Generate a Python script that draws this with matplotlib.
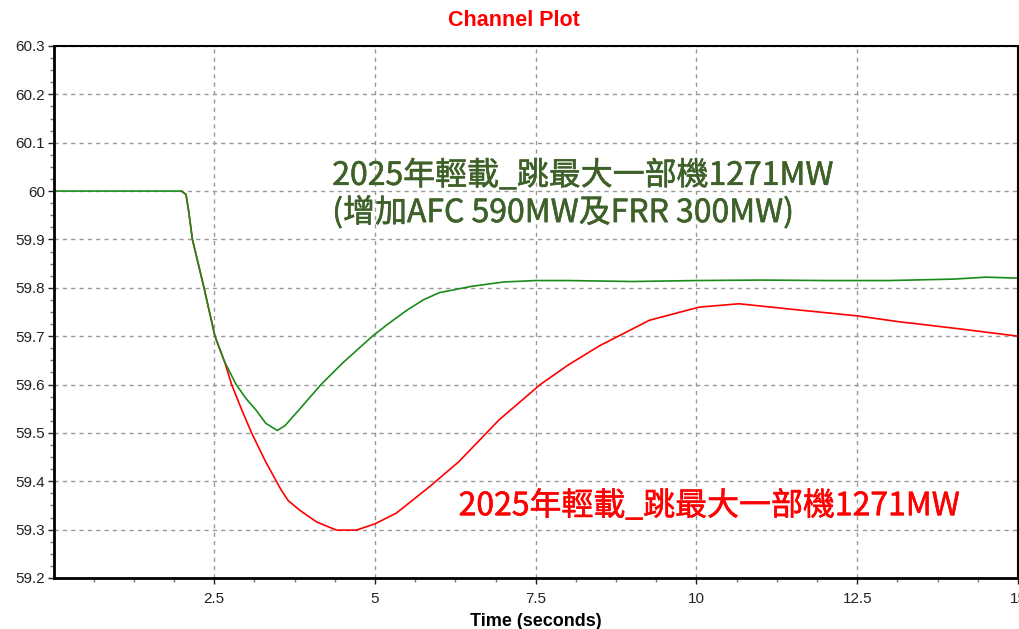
import matplotlib.pyplot as plt
import matplotlib.patheffects as pe

# time (s) and frequency (Hz)
green_t = [0, 1.99, 2.06, 2.1, 2.16, 2.34, 2.51, 2.66, 2.84, 3.0, 3.15, 3.3, 3.48,
           3.6, 3.8, 4.16, 4.5, 4.96, 5.2, 5.5, 5.75, 6.0, 6.5, 7.0, 7.5, 8.0, 9.0,
           10.0, 11.0, 12.0, 13.0, 14.0, 14.5, 15.0]
green_f = [60, 60, 59.993, 59.96, 59.9, 59.8, 59.7, 59.647, 59.6, 59.57, 59.547,
           59.52, 59.505, 59.515, 59.545, 59.6, 59.645, 59.7, 59.725, 59.754, 59.775,
           59.79, 59.803, 59.812, 59.815, 59.815, 59.813, 59.815, 59.816, 59.815,
           59.815, 59.818, 59.822, 59.82]

red_t = [1.99, 2.06, 2.1, 2.16, 2.34, 2.51, 2.66, 2.77, 2.92, 3.08, 3.3, 3.54, 3.65,
         3.83, 4.09, 4.4, 4.71, 5.0, 5.33, 5.85, 6.3, 6.93, 7.57, 8.0, 8.49, 9.27,
         10.04, 10.66, 11.6, 12.5, 13.14, 14.1, 15.0]
red_f = [60, 59.993, 59.96, 59.9, 59.8, 59.7, 59.647, 59.6, 59.55, 59.5, 59.44,
         59.382, 59.36, 59.34, 59.316, 59.299, 59.299, 59.312, 59.334, 59.389, 59.44,
         59.527, 59.60, 59.64, 59.68, 59.733, 59.76, 59.767, 59.754, 59.742, 59.73,
         59.715, 59.70]

x_ticks = [2.5, 5, 7.5, 10, 12.5, 15]
y_ticks = [59.2, 59.3, 59.4, 59.5, 59.6, 59.7, 59.8, 59.9, 60, 60.1, 60.2, 60.3]
y_labels = ["59.2", "59.3", "59.4", "59.5", "59.6", "59.7", "59.8", "59.9", "60",
            "60.1", "60.2", "60.3"]

green_line1 = "2025年輕載_跳最大一部機1271MW"
green_line2 = "(增加AFC 590MW及FRR 300MW)"
red_label = "2025年輕載_跳最大一部機1271MW"

plt.rcParams['font.family'] = ['Liberation Sans', 'DejaVu Sans']
cjk = ['Noto Sans CJK TC', 'DejaVu Sans']

fig = plt.figure(figsize=(10.2, 6.29), dpi=100)
ax = fig.add_axes([0.0525, 0.0811, 0.9455, 0.8458])

# red first so green sits on top where they overlap
ax.plot(red_t, red_f, color='#ff0000', linewidth=1.2)
ax.plot(green_t, green_f, color='#1a8a1a', linewidth=1.2)

ax.set_xlim(0, 15)
ax.set_ylim(59.2, 60.3)
ax.set_xticks(x_ticks)
ax.set_xticklabels([str(v) for v in x_ticks])
ax.set_xticks([i * 0.625 for i in range(1, 24)], minor=True)
ax.set_yticks(y_ticks)
ax.set_yticklabels(y_labels)
ax.set_yticks([59.2 + i * 0.025 for i in range(44)], minor=True)
ax.tick_params(which='major', direction='out', length=4, width=1, labelsize=11,
               colors='#222222')
ax.tick_params(axis='y', which='major', pad=2)
ax.tick_params(axis='x', which='major', pad=6)
ax.tick_params(which='minor', direction='out', length=3, width=1, color='#777777')

ax.grid(True, which='major', color='#999999', linestyle=(0, (3, 3)), linewidth=1)
for side in ['left', 'bottom']:
    ax.spines[side].set_linewidth(2)
for side in ['top', 'right']:
    ax.spines[side].set_linewidth(1.5)

fig.text(514 / 1020, 1 - 21 / 629, 'Channel Plot', color='#ff0000',
         fontweight='bold', fontsize=15.5, ha='center', va='center')
ax.set_xlabel('Time (seconds)', fontweight='bold', fontsize=13, labelpad=5)

# thin stroke to get the heavier look of the original annotation font
green_fx = [pe.withStroke(linewidth=0.4, foreground='#3d6128')]
red_fx = [pe.withStroke(linewidth=0.4, foreground='#ff0000')]
ax.text(0.289, 0.739, green_line1, transform=ax.transAxes, family=cjk,
        fontsize=23, color='#3d6128', va='baseline', ha='left', path_effects=green_fx)
ax.text(0.289, 0.669, green_line2, transform=ax.transAxes, family=cjk,
        fontsize=23, color='#3d6128', va='baseline', ha='left', path_effects=green_fx)
ax.text(0.42, 0.118, red_label, transform=ax.transAxes, family=cjk,
        fontsize=23, color='#ff0000', va='baseline', ha='left', path_effects=red_fx)

fig.savefig('out.png', dpi=100)
